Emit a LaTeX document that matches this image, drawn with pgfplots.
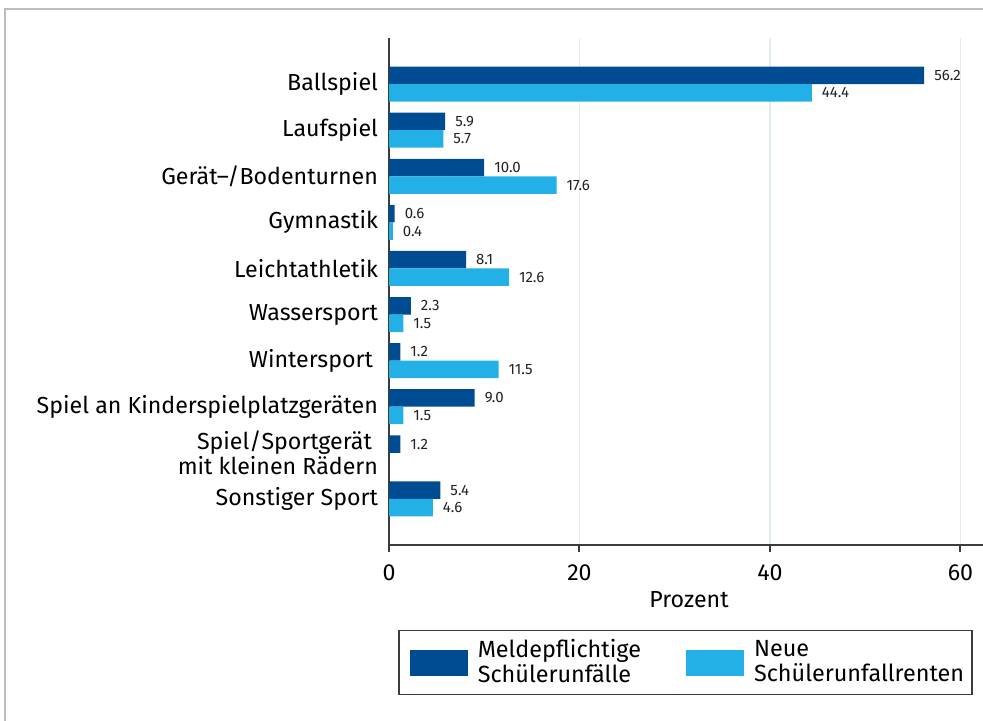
\documentclass[border=0pt]{standalone}
\usepackage{fontspec}
\setmainfont{Fira Sans}
\usepackage{pgfplots}
\pgfplotsset{compat=1.18}
\definecolor{DarkBlue}{HTML}{004C93}
\definecolor{LightBlue}{HTML}{22B0E6}
\definecolor{GridCol}{HTML}{E2EDED}
\definecolor{FrameGray}{HTML}{BDBDBD}
\definecolor{AxisGray}{HTML}{3C3C3C}
\definecolor{LabelGray}{HTML}{222222}

\pgfplotstableread{
y a b
0 5.4 4.6
1 1.2 nan
2 9.0 1.5
3 1.2 11.5
4 2.3 1.5
5 8.1 12.6
6 0.6 0.4
7 10.0 17.6
8 5.9 5.7
9 56.2 44.4
}\sporttable

\begin{document}
\begin{tikzpicture}[x=1pt,y=1pt]
  \useasboundingbox (0,0) rectangle (491.5,360);
  \draw[FrameGray,line width=1pt] (2.5,-20) -- (2.5,355.5) -- (520,355.5);
  \begin{axis}[
    at={(194.5pt,87.5pt)},anchor=south west,
    scale only axis,width=300pt,height=253.5pt,
    xbar,bar width=8.75pt,
    xmin=0,xmax=63,ymin=-1,ymax=10,
    axis x line*=bottom,axis y line*=left,
    axis line style={-,AxisGray,line width=1pt},
    xtick={0,20,40,60},tick align=outside,major tick length=3.5pt,
    x tick style={AxisGray,line width=1pt},
    ytick={0,...,9},y tick style={draw=none},
    yticklabels={Sonstiger Sport,Spiel/Sportgerät\kern3pt\\mit kleinen Rädern,Spiel an Kinderspielplatzgeräten,Wintersport\kern2.5pt,Wassersport,Leichtathletik,Gymnastik,Gerät–/Bodenturnen,Laufspiel,Ballspiel},
    yticklabel style={align=right,font=\fontsize{11.6}{11.5}\selectfont,xshift=1.5pt},
    xticklabel style={font=\fontsize{11.6}{12}\selectfont,yshift=-3pt},
    /pgf/number format/assume math mode=true,
    xmajorgrids,grid style={GridCol,line width=0.75pt},
    xlabel={Prozent},
    xlabel style={at={(axis description cs:0.5,0)},anchor=center,yshift=-27.5pt,font=\fontsize{11.6}{12}\selectfont},
    nodes near coords={\pgfmathprintnumber[fixed,fixed zerofill,precision=1,assume math mode=true]{\pgfplotspointmeta}},
    nodes near coords style={anchor=west,font=\fontsize{7.5}{8}\selectfont,text=LabelGray,xshift=1.5pt},
    legend columns=2,
    legend style={at={(0.015,-0.2318)},anchor=west,draw=AxisGray,line width=0.75pt,
      font=\fontsize{11.7}{12.3}\selectfont,inner xsep=2pt,inner ysep=2.5pt,
      cells={align=left,anchor=west},
      /tikz/every even column/.append style={column sep=17pt}},
    legend image code/.code={\draw[#1,draw=none] (0pt,-6.5pt) rectangle (29pt,6.5pt);\path (-3.5pt,0pt) (32pt,0pt);},
  ]
    \addplot[fill=DarkBlue,draw=none,bar shift=4.375pt] table[x=a,y=y] {\sporttable};
    \addplot[fill=LightBlue,draw=none,bar shift=-4.375pt] table[x=b,y=y] {\sporttable};
    \legend{Meldepflichtige\\Schülerunfälle,Neue\\Schülerunfallrenten}
  \end{axis}
\end{tikzpicture}
\end{document}
